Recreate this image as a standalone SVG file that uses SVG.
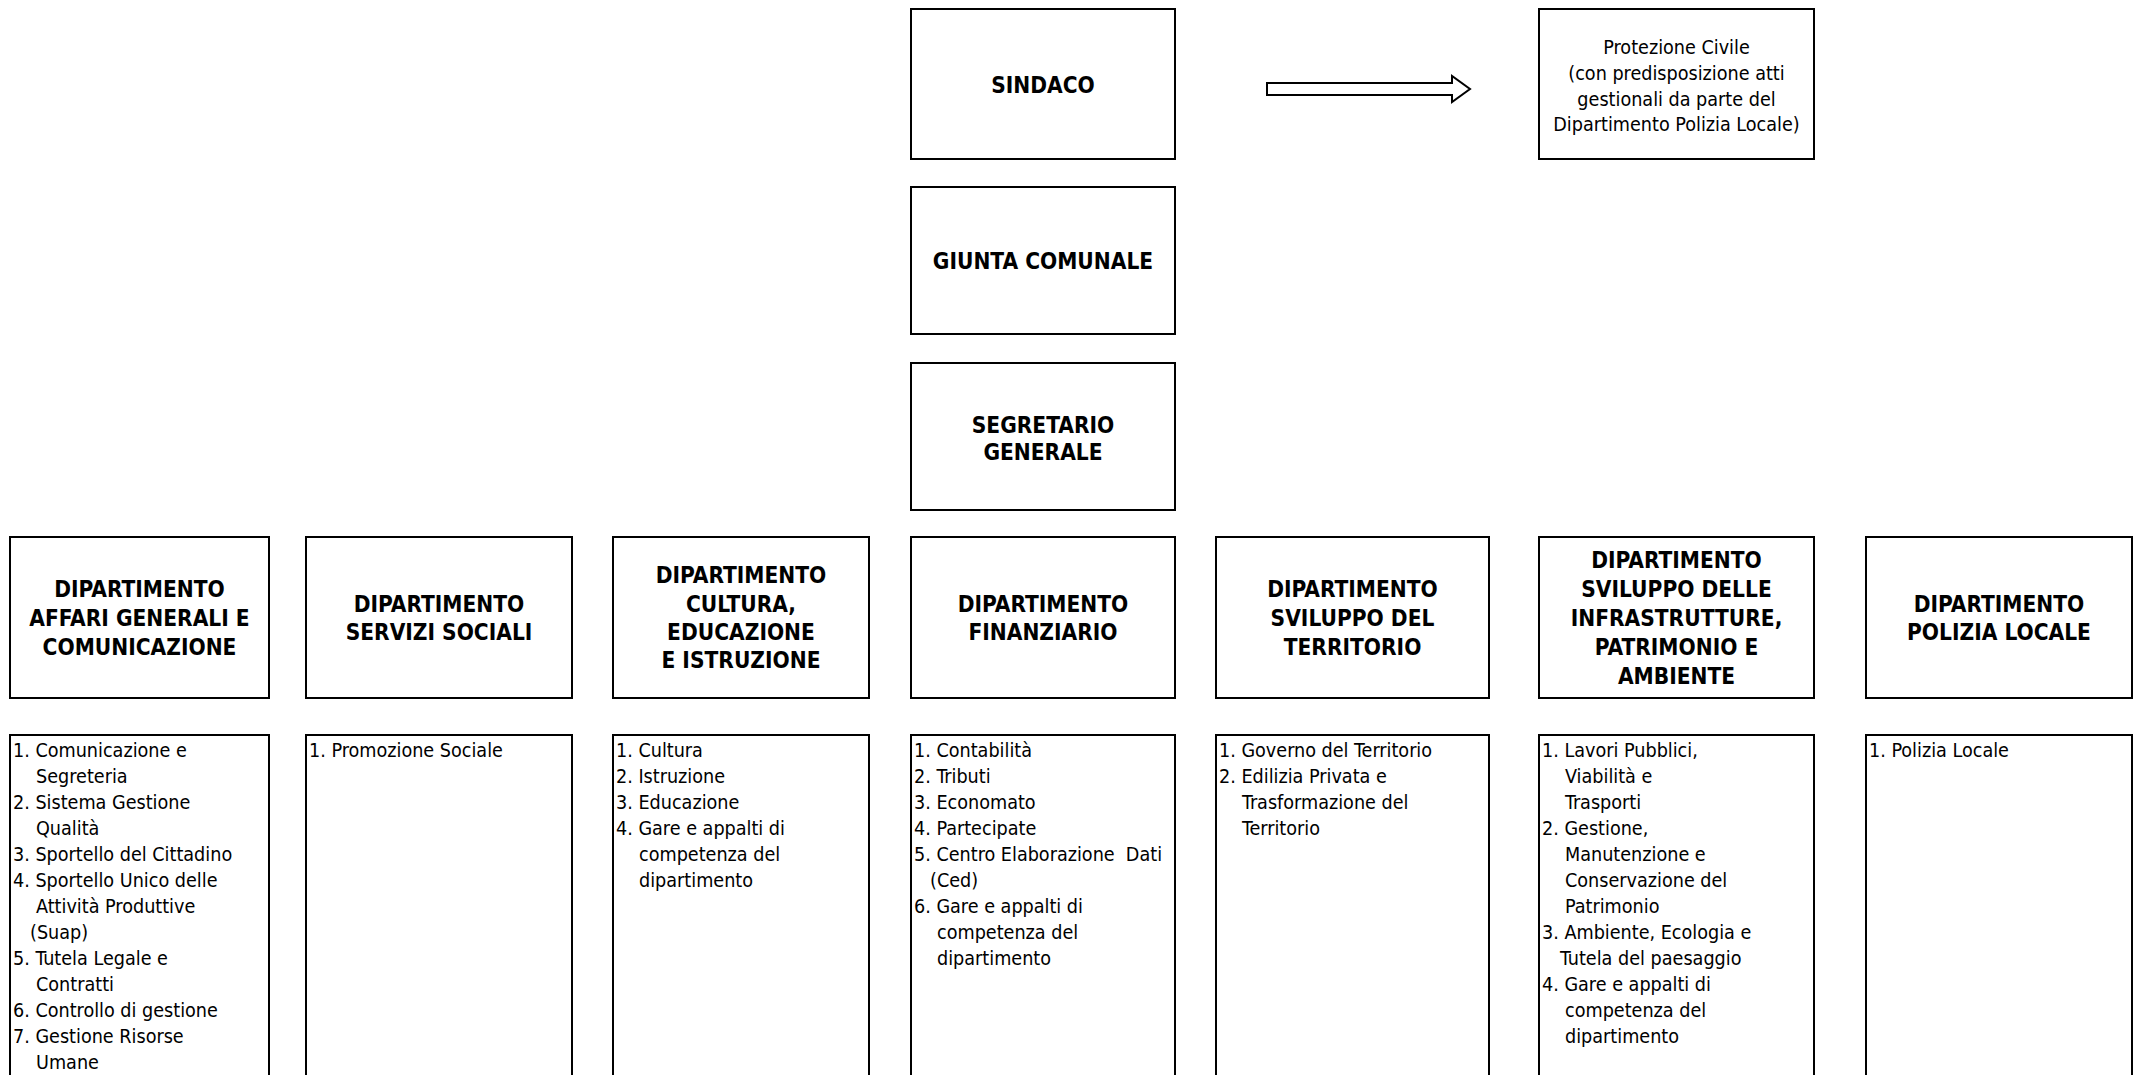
<svg xmlns="http://www.w3.org/2000/svg" width="2136" height="1075" viewBox="0 0 2136 1075">
<style>
.box{fill:#fff;stroke:#000;stroke-width:2}
.open{fill:none;stroke:#000;stroke-width:2}
.h{font-family:"DejaVu Sans Condensed","DejaVu Sans",sans-serif;font-weight:bold;font-size:22.5px;text-anchor:middle;fill:#000}
.t{font-family:"DejaVu Sans Condensed","DejaVu Sans",sans-serif;font-size:19.6px;fill:#000}
.c{text-anchor:middle}
.arrow{fill:#fff;stroke:#000;stroke-width:2;stroke-linejoin:miter}
</style>
<rect width="2136" height="1075" fill="#fff"/>

<g id="connectors">
<polygon class="arrow" points="1267,83 1452,83 1452,76 1470,89 1452,102 1452,95 1267,95"/>
</g>

<g id="sindaco">
<rect class="box" x="911" y="9" width="264" height="150"/>
<text class="h" x="1043" y="93">SINDACO</text>
</g>
<g id="protezione-civile">
<rect class="box" x="1539" y="9" width="275" height="150"/>
<text class="t c" x="1676.5" y="54">Protezione Civile</text>
<text class="t c" x="1676.5" y="80">(con predisposizione atti</text>
<text class="t c" x="1676.5" y="106">gestionali da parte del</text>
<text class="t c" x="1676.5" y="131">Dipartimento Polizia Locale)</text>
</g>
<g id="giunta">
<rect class="box" x="911" y="187" width="264" height="147"/>
<text class="h" x="1043" y="269">GIUNTA COMUNALE</text>
</g>
<g id="segretario">
<rect class="box" x="911" y="363" width="264" height="147"/>
<text class="h" x="1043" y="433">SEGRETARIO</text>
<text class="h" x="1043" y="460">GENERALE</text>
</g>

<g id="dip-affari-generali">
<rect class="box" x="10" y="537" width="259" height="161"/>
<text class="h" x="139.5" y="597">DIPARTIMENTO</text>
<text class="h" x="139.5" y="626">AFFARI GENERALI E</text>
<text class="h" x="139.5" y="655">COMUNICAZIONE</text>
</g>
<g id="dip-servizi-sociali">
<rect class="box" x="306" y="537" width="266" height="161"/>
<text class="h" x="439" y="612">DIPARTIMENTO</text>
<text class="h" x="439" y="640">SERVIZI SOCIALI</text>
</g>
<g id="dip-cultura">
<rect class="box" x="613" y="537" width="256" height="161"/>
<text class="h" x="741" y="583">DIPARTIMENTO</text>
<text class="h" x="741" y="612">CULTURA,</text>
<text class="h" x="741" y="640">EDUCAZIONE</text>
<text class="h" x="741" y="668">E ISTRUZIONE</text>
</g>
<g id="dip-finanziario">
<rect class="box" x="911" y="537" width="264" height="161"/>
<text class="h" x="1043" y="612">DIPARTIMENTO</text>
<text class="h" x="1043" y="640">FINANZIARIO</text>
</g>
<g id="dip-sviluppo-territorio">
<rect class="box" x="1216" y="537" width="273" height="161"/>
<text class="h" x="1352.5" y="597">DIPARTIMENTO</text>
<text class="h" x="1352.5" y="626">SVILUPPO DEL</text>
<text class="h" x="1352.5" y="655">TERRITORIO</text>
</g>
<g id="dip-infrastrutture">
<rect class="box" x="1539" y="537" width="275" height="161"/>
<text class="h" x="1676.5" y="568">DIPARTIMENTO</text>
<text class="h" x="1676.5" y="597">SVILUPPO DELLE</text>
<text class="h" x="1676.5" y="626">INFRASTRUTTURE,</text>
<text class="h" x="1676.5" y="655">PATRIMONIO E</text>
<text class="h" x="1676.5" y="684">AMBIENTE</text>
</g>
<g id="dip-polizia-locale">
<rect class="box" x="1866" y="537" width="266" height="161"/>
<text class="h" x="1999" y="612">DIPARTIMENTO</text>
<text class="h" x="1999" y="640">POLIZIA LOCALE</text>
</g>

<g id="list-affari-generali">
<path class="open" d="M10,1080 V735 H269 V1080"/>
<text class="t" x="13" y="757">1. Comunicazione e</text>
<text class="t" x="36" y="783">Segreteria</text>
<text class="t" x="13" y="809">2. Sistema Gestione</text>
<text class="t" x="36" y="835">Qualità</text>
<text class="t" x="13" y="861">3. Sportello del Cittadino</text>
<text class="t" x="13" y="887">4. Sportello Unico delle</text>
<text class="t" x="36" y="913">Attività Produttive</text>
<text class="t" x="30" y="939">(Suap)</text>
<text class="t" x="13" y="965">5. Tutela Legale e</text>
<text class="t" x="36" y="991">Contratti</text>
<text class="t" x="13" y="1017">6. Controllo di gestione</text>
<text class="t" x="13" y="1043">7. Gestione Risorse</text>
<text class="t" x="36" y="1069">Umane</text>
</g>
<g id="list-servizi-sociali">
<path class="open" d="M306,1080 V735 H572 V1080"/>
<text class="t" x="309" y="757">1. Promozione Sociale</text>
</g>
<g id="list-cultura">
<path class="open" d="M613,1080 V735 H869 V1080"/>
<text class="t" x="616" y="757">1. Cultura</text>
<text class="t" x="616" y="783">2. Istruzione</text>
<text class="t" x="616" y="809">3. Educazione</text>
<text class="t" x="616" y="835">4. Gare e appalti di</text>
<text class="t" x="639" y="861">competenza del</text>
<text class="t" x="639" y="887">dipartimento</text>
</g>
<g id="list-finanziario">
<path class="open" d="M911,1080 V735 H1175 V1080"/>
<text class="t" x="914" y="757">1. Contabilità</text>
<text class="t" x="914" y="783">2. Tributi</text>
<text class="t" x="914" y="809">3. Economato</text>
<text class="t" x="914" y="835">4. Partecipate</text>
<text class="t" x="914" y="861" xml:space="preserve">5. Centro Elaborazione  Dati</text>
<text class="t" x="930" y="887">(Ced)</text>
<text class="t" x="914" y="913">6. Gare e appalti di</text>
<text class="t" x="937" y="939">competenza del</text>
<text class="t" x="937" y="965">dipartimento</text>
</g>
<g id="list-sviluppo-territorio">
<path class="open" d="M1216,1080 V735 H1489 V1080"/>
<text class="t" x="1219" y="757">1. Governo del Territorio</text>
<text class="t" x="1219" y="783">2. Edilizia Privata e</text>
<text class="t" x="1242" y="809">Trasformazione del</text>
<text class="t" x="1242" y="835">Territorio</text>
</g>
<g id="list-infrastrutture">
<path class="open" d="M1539,1080 V735 H1814 V1080"/>
<text class="t" x="1542" y="757">1. Lavori Pubblici,</text>
<text class="t" x="1565" y="783">Viabilità e</text>
<text class="t" x="1565" y="809">Trasporti</text>
<text class="t" x="1542" y="835">2. Gestione,</text>
<text class="t" x="1565" y="861">Manutenzione e</text>
<text class="t" x="1565" y="887">Conservazione del</text>
<text class="t" x="1565" y="913">Patrimonio</text>
<text class="t" x="1542" y="939">3. Ambiente, Ecologia e</text>
<text class="t" x="1560" y="965">Tutela del paesaggio</text>
<text class="t" x="1542" y="991">4. Gare e appalti di</text>
<text class="t" x="1565" y="1017">competenza del</text>
<text class="t" x="1565" y="1043">dipartimento</text>
</g>
<g id="list-polizia-locale">
<path class="open" d="M1866,1080 V735 H2132 V1080"/>
<text class="t" x="1869" y="757">1. Polizia Locale</text>
</g>
</svg>
